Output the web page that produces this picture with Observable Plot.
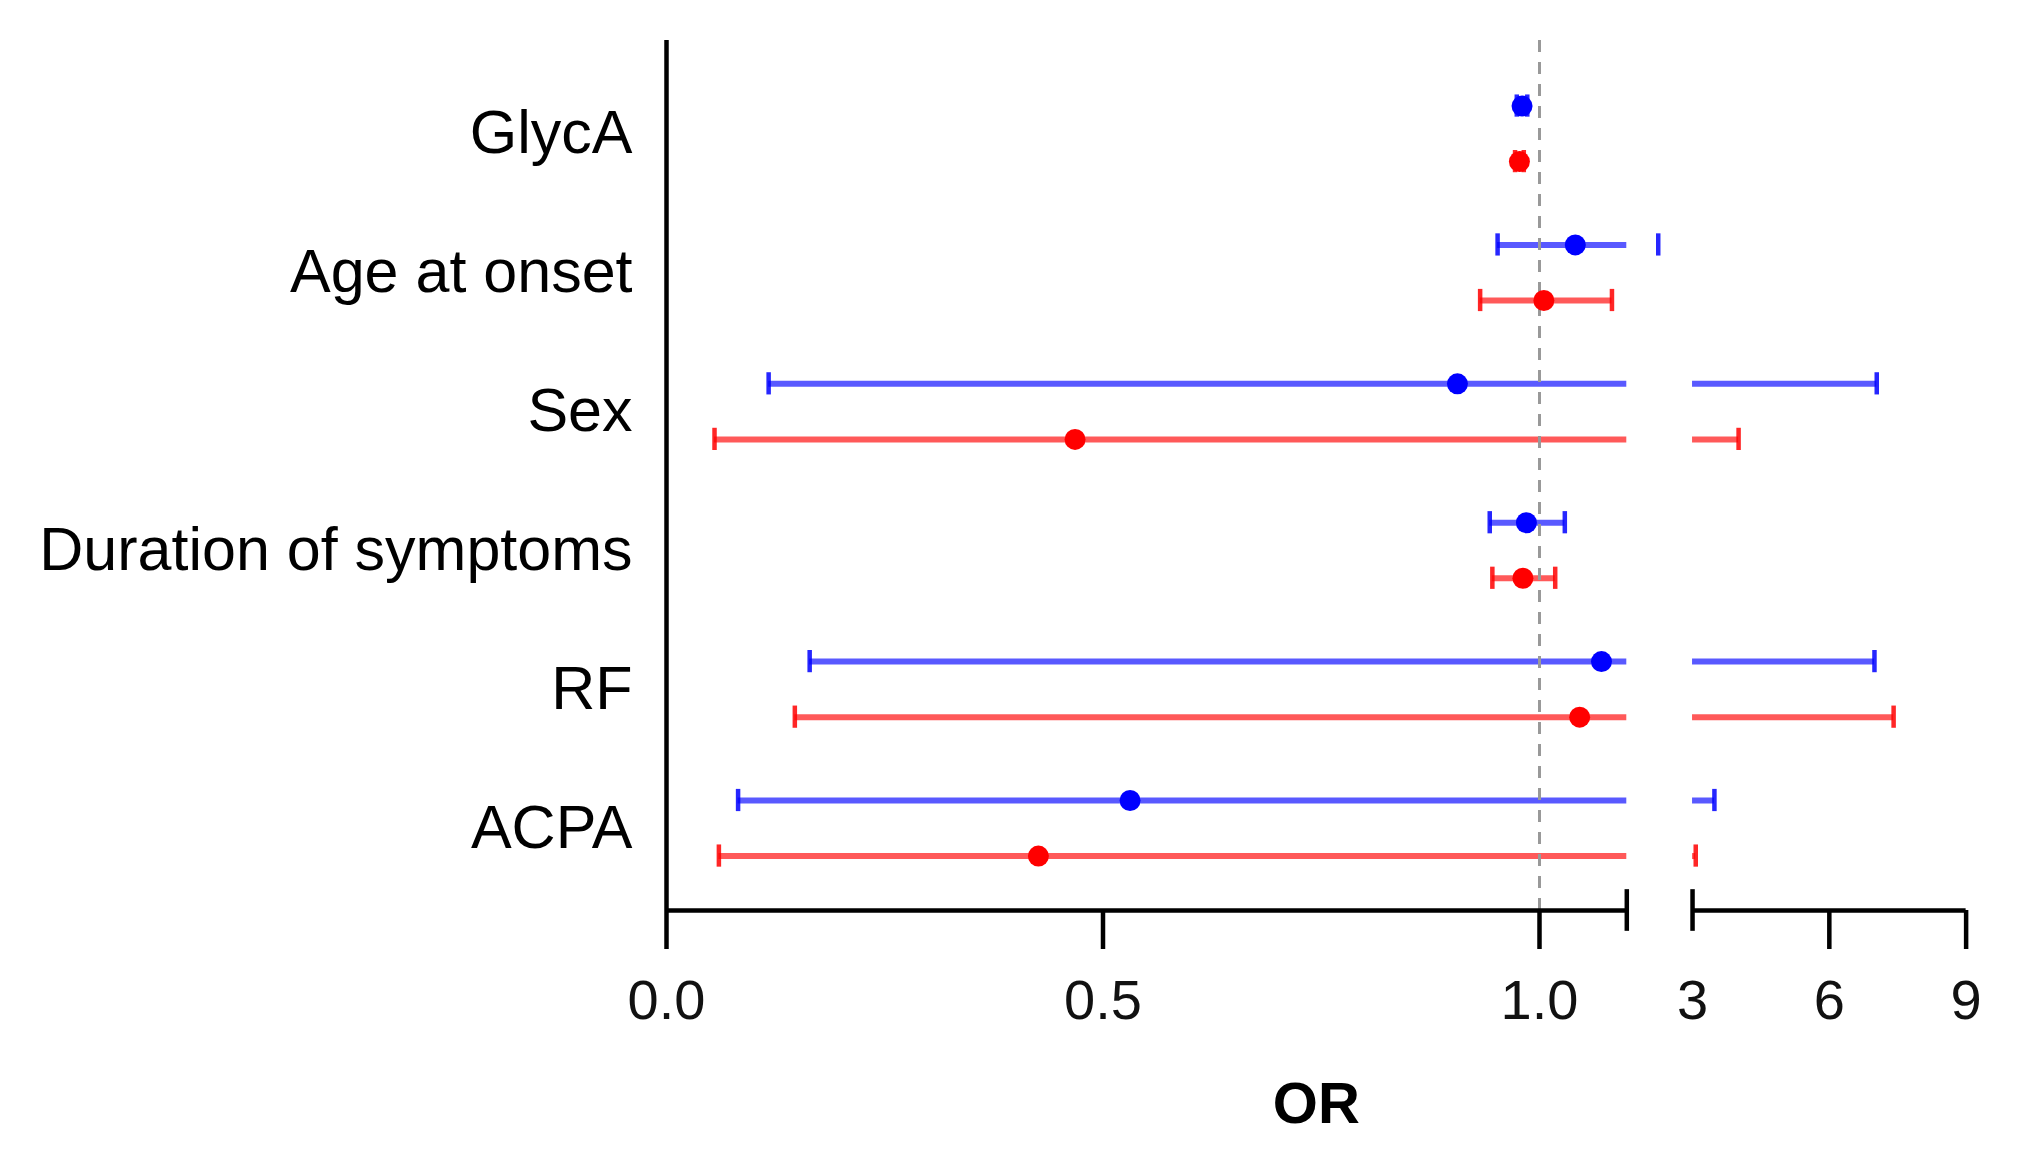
<!DOCTYPE html>
<html><head><meta charset="utf-8">
<script src="https://cdn.jsdelivr.net/npm/d3@7"></script>
<script src="https://cdn.jsdelivr.net/npm/@observablehq/plot@0.6"></script>
<style>html,body{margin:0;padding:0;background:#fff;} #chart svg{display:block}</style>
</head><body><div id="chart"></div>
<script>
// ---- data ----
const categories = ["GlycA", "Age at onset", "Sex", "Duration of symptoms", "RF", "ACPA"];
const seriesNames = ["Series 1", "Series 2"];
const seriesColors = ["#0000ff", "#ff0000"];
const s1OR   = [0.980, 1.041, 0.906, 0.985, 1.071, 0.531];
const s1Low  = [0.974, 0.952, 0.117, 0.943, 0.164, 0.082];
const s1High = [0.986, 1.136, 7.04, 1.029, 6.99, 3.48];
const s2OR   = [0.977, 1.005, 0.468, 0.981, 1.046, 0.426];
const s2Low  = [0.972, 0.932, 0.055, 0.946, 0.147, 0.060];
const s2High = [0.982, 1.083, 4.01, 1.018, 7.41, 3.07];
const axisSegments = [[0, 1.1], [3, 9]];
const tickValues = [0, 0.5, 1.0, 3, 6, 9];
const tickLabels = ["0.0", "0.5", "1.0", "3", "6", "9"];
const majorTicks = [0, 0.5, 1.0, 6, 9];
const breakTicks = [1.1, 3];
const refOR = 1;

// ---- broken axis transform ----
const [seg1, seg2] = axisSegments;
const gap = 0.0753;        // width of the axis break, in segment-1 units
const seg2Scale = 0.05223; // segment-2 length per OR unit, relative to segment 1
const brk = v => v < seg2[0] ? v : seg1[1] + gap + (v - seg2[0]) * seg2Scale;

const rows = [];
categories.forEach((c, i) => {
  rows.push({cat: c, s: seriesNames[0], or: s1OR[i], lo: s1Low[i], hi: s1High[i], y: i - 0.2});
  rows.push({cat: c, s: seriesNames[1], or: s2OR[i], lo: s2Low[i], hi: s2High[i], y: i + 0.2});
});
const pieces = [];
rows.forEach(r => {
  if (r.lo <= seg1[1]) pieces.push({...r, a: r.lo, b: Math.min(r.hi, seg1[1])});
  if (r.hi >= seg2[0]) pieces.push({...r, a: Math.max(r.lo, seg2[0]), b: r.hi});
});
const caps = rows.flatMap(r => [{...r, v: r.lo}, {...r, v: r.hi}]);
const labelMap = new Map(tickValues.map((v, i) => [brk(v), tickLabels[i]]));

const yDomain = [-0.672, 5.592];
const capHalf = 0.08;
const breakHalf = 0.15;

const plot = Plot.plot({
  width: 2022, height: 1166,
  marginLeft: 666, marginRight: 2022 - 666 - 873 * brk(seg2[1]), marginTop: 40, marginBottom: 256,
  x: {domain: [0, brk(seg2[1])]},
  y: {domain: yDomain, reverse: true},
  color: {domain: seriesNames, range: seriesColors},
  style: {fontFamily: "'Liberation Sans', Arial, Helvetica, sans-serif", color: "#000", background: "#fff"},
  marks: [
    Plot.ruleY(pieces, {y: "y", x1: d => brk(d.a), x2: d => brk(d.b), stroke: "s", strokeWidth: 6, strokeOpacity: 0.65}),
    Plot.ruleX(caps, {x: d => brk(d.v), y1: d => d.y - capHalf, y2: d => d.y + capHalf, stroke: "s", strokeWidth: 4.5, strokeOpacity: 0.85}),
    Plot.ruleX([refOR], {x: d => brk(d), stroke: "#999", strokeWidth: 3, strokeDasharray: "12,10"}),
    Plot.dot(rows, {x: d => brk(d.or), y: "y", fill: "s", r: 10.5}),
    Plot.ruleX([0], {x: d => d, stroke: "#000", strokeWidth: 4.5}),
    Plot.ruleY(axisSegments, {y: () => yDomain[1], x1: d => brk(d[0]), x2: d => brk(d[1]), stroke: "#000", strokeWidth: 4.5}),
    Plot.ruleX(breakTicks, {x: d => brk(d), y1: () => yDomain[1] - breakHalf, y2: () => yDomain[1] + breakHalf, stroke: "#000", strokeWidth: 4.5}),
    Plot.axisX({ticks: majorTicks.map(brk), tickSize: 39, tickFormat: () => "", strokeWidth: 4.5, label: null}),
    Plot.axisX({ticks: tickValues.map(brk), tickSize: 0, tickPadding: 69, tickFormat: u => labelMap.get(u), fontSize: 56, fill: "#111", label: null}),
    Plot.axisY({ticks: categories.map((c, i) => i), tickSize: 0, tickPadding: 34, tickFormat: i => categories[i], fontSize: 61, fill: "#000", label: null}),
    Plot.text(["OR"], {frameAnchor: "bottom", dy: 194, fontSize: 58, fontWeight: "bold", lineAnchor: "middle", fill: "#000"})
  ]
});
document.getElementById("chart").appendChild(plot);
</script>
</body></html>
